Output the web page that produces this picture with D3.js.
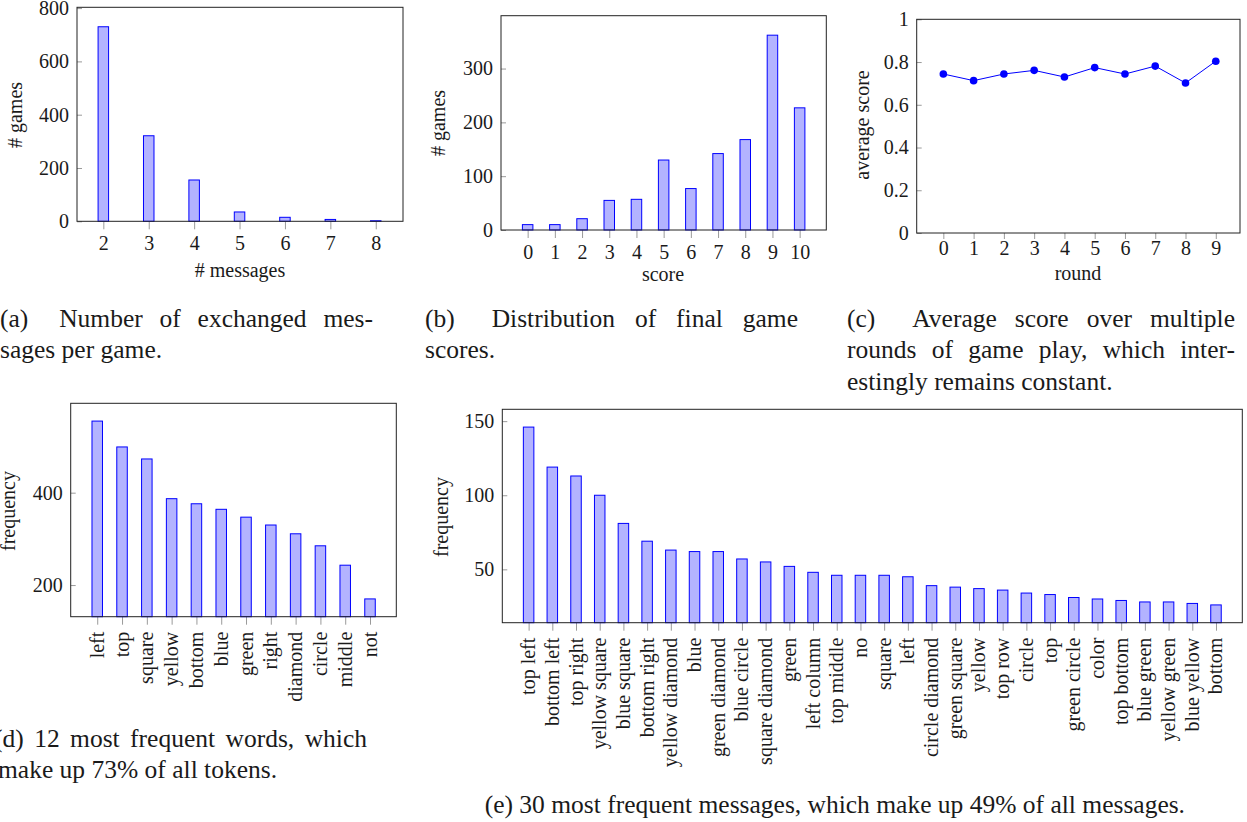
<!DOCTYPE html>
<html>
<head>
<meta charset="utf-8">
<script src="https://cdn.jsdelivr.net/npm/d3@7"></script>
<style>
body { margin: 0; background: #fff; }
svg text { font-family: "Liberation Serif", "Times New Roman", serif; fill: #1a1a1a; }
</style>
</head>
<body>
<svg id="fig" width="1247" height="822"></svg>
<script>
// (a) number of exchanged messages per game
var msgCounts = [2, 3, 4, 5, 6, 7, 8];
var msgGames = [730, 321, 155, 35, 15, 7, 2];

// (b) final game scores
var scores = [0, 1, 2, 3, 4, 5, 6, 7, 8, 9, 10];
var scoreGames = [10, 10, 21, 55, 57, 130, 77, 142, 168, 362, 227];

// (c) average score per round
var rounds = [0, 1, 2, 3, 4, 5, 6, 7, 8, 9];
var roundAvg = [0.744, 0.713, 0.744, 0.761, 0.730, 0.774, 0.744, 0.781, 0.702, 0.804];

// (d) most frequent words
var topWords = ["left", "top", "square", "yellow", "bottom", "blue", "green", "right", "diamond", "circle", "middle", "not"];
var wordFreq = [555, 499, 473, 387, 376, 364, 347, 330, 311, 285, 243, 170];

// (e) most frequent messages
var topMessages = ["top left", "bottom left", "top right", "yellow square", "blue square", "bottom right",
	"yellow diamond", "blue", "green diamond", "blue circle", "square diamond", "green", "left column",
	"top middle", "no", "square", "left", "circle diamond", "green square", "yellow", "top row", "circle",
	"top", "green circle", "color", "top bottom", "blue green", "yellow green", "blue yellow", "bottom"];
var messageFreq = [146, 119, 113, 100, 81, 69, 63, 62, 62, 57, 55, 52, 48, 46, 46, 46, 45, 39, 38, 37,
	36, 34, 33, 31, 30, 29, 28, 28, 27, 26];

var svg = d3.select("#fig");
var FONT = 20;
var BAR_FILL = "#b3b3ff", BAR_STROKE = "#0000ff", TICK = "#9a9a9a";

function panel(p) {
	var g = svg.append("g");
	var x = d3.scaleLinear().domain(p.xDomain).range([p.left, p.right]);
	var y = d3.scaleLinear().domain(p.yDomain).range([p.bottom, p.top]);

	var xa = d3.axisBottom(x).tickValues(p.xTicks).tickSize(p.xTickSize).tickPadding(p.xPad)
		.tickFormat(p.xFormat || function(d) { return d; });
	var gx = g.append("g").attr("transform", "translate(0," + p.bottom + ")").call(xa);
	var ya = d3.axisLeft(y).tickValues(p.yTicks).tickSize(-5).tickPadding(8)
		.tickFormat(p.yFormat || function(d) { return d; });
	var gy = g.append("g").attr("transform", "translate(" + p.left + ",0)").call(ya);

	[gx, gy].forEach(function(a) {
		a.select(".domain").remove();
		a.selectAll(".tick line").attr("stroke", TICK).attr("stroke-width", 1);
		a.selectAll(".tick text").attr("font-size", FONT).attr("font-family", null).attr("fill", "#1a1a1a");
	});
	if (p.rotate) {
		gx.selectAll(".tick text")
			.attr("transform", "rotate(-90)")
			.attr("text-anchor", "end")
			.attr("x", -p.rotate).attr("y", 0).attr("dy", "0.3em");
	}

	// x label
	if (p.xLabel) {
		g.append("text").attr("x", p.xLabel[1]).attr("y", p.xLabel[2]).attr("text-anchor", "middle")
			.attr("font-size", FONT).text(p.xLabel[0]);
	}
	g.append("text")
		.attr("transform", "translate(" + p.yLabel[1] + "," + p.yLabel[2] + ") rotate(-90)")
		.attr("text-anchor", "middle").attr("dy", "0.35em")
		.attr("font-size", FONT).text(p.yLabel[0]);

	var marks = g.append("g");
	g.append("rect").attr("x", p.left).attr("y", p.top)
		.attr("width", p.right - p.left).attr("height", p.bottom - p.top)
		.attr("fill", "none").attr("stroke", "#222").attr("stroke-width", 1);
	return {g: marks, x: x, y: y, bottom: p.bottom};
}

function bars(pn, xs, vals) {
	var w = 10.5;
	pn.g.selectAll("rect").data(vals).enter().append("rect")
		.attr("x", function(d, i) { return pn.x(xs[i]) - w / 2; })
		.attr("y", function(d) { return pn.y(d); })
		.attr("width", w)
		.attr("height", function(d) { return pn.bottom - pn.y(d); })
		.attr("fill", BAR_FILL).attr("stroke", BAR_STROKE).attr("stroke-width", 1);
}

// (a)
var pa = panel({left: 77, right: 403, top: 7.3, bottom: 221.3, xDomain: [1.42, 8.6], yDomain: [0, 803],
	xTicks: msgCounts, xTickSize: 8, xPad: 7, yTicks: [0, 200, 400, 600, 800],
	xLabel: ["# messages", 240, 277], yLabel: ["# games", 15, 115]});
bars(pa, msgCounts, msgGames);

// (b)
var pb = panel({left: 501, right: 826.3, top: 15.7, bottom: 230, xDomain: [-0.98, 10.98], yDomain: [0, 398.2],
	xTicks: scores, xTickSize: 8, xPad: 7, yTicks: [0, 100, 200, 300],
	xLabel: ["score", 663, 281], yLabel: ["# games", 438, 123]});
bars(pb, scores, scoreGames);

// (c)
var pc = panel({left: 916.7, right: 1240, top: 19.3, bottom: 233, xDomain: [-0.88, 9.8], yDomain: [0, 1],
	xTicks: rounds, xTickSize: 6, xPad: 2, yTicks: [0, 0.2, 0.4, 0.6, 0.8, 1],
	yFormat: function(d) { return d === 0 || d === 1 ? d : d3.format(".1f")(d); },
	xLabel: ["round", 1078, 280], yLabel: ["average score", 862, 125]});
var line = d3.line().x(function(d, i) { return pc.x(rounds[i]); }).y(function(d) { return pc.y(d); });
pc.g.append("path").datum(roundAvg).attr("d", line).attr("fill", "none").attr("stroke", BAR_STROKE).attr("stroke-width", 1);
pc.g.selectAll("circle").data(roundAvg).enter().append("circle")
	.attr("cx", function(d, i) { return pc.x(rounds[i]); })
	.attr("cy", function(d) { return pc.y(d); })
	.attr("r", 3.8).attr("fill", BAR_STROKE);

// (d)
var wordIdx = d3.range(topWords.length);
var pd = panel({left: 70.7, right: 396.3, top: 403.3, bottom: 616.7, xDomain: [-1.07, 12.06], yDomain: [131.5, 593.5],
	xTicks: wordIdx, xTickSize: 8, xPad: 7, xFormat: function(i) { return topWords[i]; }, rotate: 15,
	yTicks: [200, 400], yLabel: ["frequency", 8, 511]});
bars(pd, wordIdx, wordFreq);

// (e)
var msgIdx = d3.range(topMessages.length);
var pe = panel({left: 502.3, right: 1242.3, top: 409.3, bottom: 622.7, xDomain: [-1.11, 30.11], yDomain: [14, 158],
	xTicks: msgIdx, xTickSize: 8, xPad: 7, xFormat: function(i) { return topMessages[i]; }, rotate: 15,
	yTicks: [50, 100, 150], yLabel: ["frequency", 441, 517]});
bars(pe, msgIdx, messageFreq);

// captions, justified like the LaTeX subcaptions
var CAP = 25.5;
function capLine(words, x0, x1, y, justify, labelExtra) {
	var g = svg.append("g");
	var t = words.map(function(w) {
		return g.append("text").attr("y", y).attr("font-size", CAP).text(w);
	});
	var widths = t.map(function(s) { return s.node().getComputedTextLength(); });
	var total = d3.sum(widths) + (labelExtra || 0);
	var gap = justify ? (x1 - x0 - total) / (words.length - 1) : CAP * 0.25;
	var cx = x0;
	t.forEach(function(s, i) {
		s.attr("x", cx);
		cx += widths[i] + gap + (i === 0 && labelExtra ? labelExtra : 0);
	});
}

capLine(["(a)", "Number", "of", "exchanged", "mes-"], 0, 373, 326.7, true, 14);
capLine(["sages", "per", "game."], 0, 0, 358.3, false);
capLine(["(b)", "Distribution", "of", "final", "game"], 425, 798, 326.7, true, 17);
capLine(["scores."], 425, 0, 358.3, false);
capLine(["(c)", "Average", "score", "over", "multiple"], 847, 1235, 326.7, true, 19);
capLine(["rounds", "of", "game", "play,", "which", "inter-"], 847, 1235, 358.3, true);
capLine(["estingly", "remains", "constant."], 847, 0, 390, false);
capLine(["(d)", "12", "most", "frequent", "words,", "which"], -6, 367, 746.7, true);
capLine(["make", "up", "73%", "of", "all", "tokens."], -2, 0, 778.3, false);

svg.append("text").attr("x", 1185).attr("y", 813.3).attr("text-anchor", "end").attr("font-size", CAP)
	.text("(e) 30 most frequent messages, which make up 49% of all messages.");
</script>
</body>
</html>
